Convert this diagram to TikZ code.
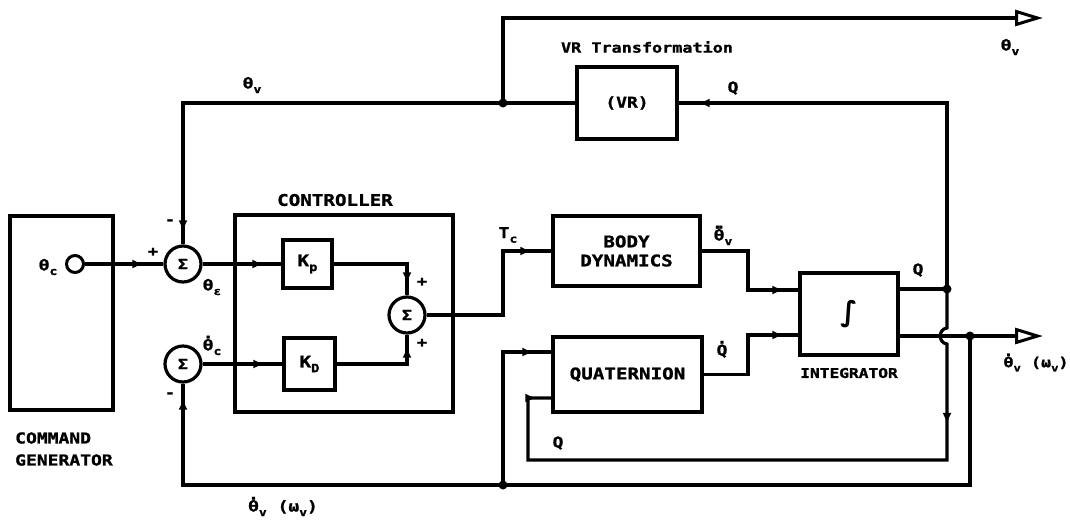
\documentclass[tikz,border=0pt]{standalone}
\usepackage{fontspec}
\usepackage{graphicx}
\usetikzlibrary{arrows.meta,decorations.markings}
\newfontfamily\lettering{DejaVu Sans Mono}[FakeStretch=1.2, BoldFeatures={FakeBold=1.2}]
\newfontfamily\plainsans{DejaVu Sans}
\newcommand\sbx[1]{\raisebox{-0.3em}{\scalebox{0.72}{#1}}}
\newcommand\dotx[1]{\ooalign{#1\cr\hidewidth\raisebox{0.8em}{.}\hidewidth\cr}}
\newcommand\ddotx[1]{\ooalign{#1\cr\hidewidth\raisebox{0.8em}{.\kern-0.5em.}\hidewidth\cr}}
\tikzset{
  wire/.style={line width=3.2pt},
  blk/.style={draw, rectangle, line width=3.2pt, inner sep=0pt},
  sumc/.style={draw, circle, line width=3.2pt, minimum size=36pt, inner sep=0pt,
    font=\lettering\bfseries\fontsize{14}{14}\selectfont},
  marked/.style={postaction={decorate}, decoration={markings,
    mark=at position -#1 with {\arrow{Latex[length=11pt,width=9pt]}}}},
  marked/.default=18pt,
  jdot/.style={circle, fill, inner sep=0pt, minimum size=9pt},
  outarr/.style={wire, -{Triangle[open, length=28pt, width=16pt, line width=3pt]}},
  lbl/.style={font=\lettering\bfseries\fontsize{16}{19}\selectfont, inner sep=0pt},
  glbl/.style={font=\lettering\bfseries\fontsize{15}{15}\selectfont, inner sep=0pt},
  sgn/.style={font=\lettering\bfseries\fontsize{14}{14}\selectfont, inner sep=0pt},
}
\begin{document}
\begin{tikzpicture}[x=1pt,y=-1pt]
\fill[white] (0,0) rectangle (1070,520);
\useasboundingbox (0,0) rectangle (1070,520);

% blocks
\node[blk, minimum width=103pt, minimum height=194pt] (cmd) at (61.5,313) {};
\node[blk, minimum width=218pt, minimum height=197pt] (ctrl) at (344,313.5) {};
\node[blk, lbl, minimum width=49pt, minimum height=48pt] (kp) at (307.5,264) {K\sbx{p}};
\node[blk, lbl, minimum width=51pt, minimum height=52pt] (kd) at (309.5,364) {K\sbx{D}};
\node[blk, lbl, align=center, minimum width=147pt, minimum height=70pt] (body) at (626.5,251) {BODY\\DYNAMICS};
\node[blk, lbl, minimum width=149pt, minimum height=75pt] (quat) at (627.5,374.5) {QUATERNION};
\node[blk, minimum width=98pt, minimum height=82pt, font=\plainsans\bfseries\fontsize{28}{28}\selectfont] (integ) at (849,314) {∫};
\node[blk, lbl, minimum width=100pt, minimum height=72pt, font=\lettering\bfseries\fontsize{15}{15}\selectfont] (vr) at (627,103) {(VR)};

% summing junctions
\node[draw, circle, line width=3pt, minimum size=17pt, inner sep=0pt] (src) at (75,264) {};
\node[sumc] (s1) at (183,264) {Σ};
\node[sumc] (s2) at (183,364) {Σ};
\node[sumc] (s3) at (407,315) {Σ};

% junction coordinates
\coordinate (j1) at (503,103);
\coordinate (ot) at (1043,18);
\coordinate (tcb) at (503,315);
\coordinate (b1) at (748,290);
\coordinate (b2) at (748,335);
\coordinate (q1) at (947,289);
\coordinate (qb) at (947,460);
\coordinate (qc) at (528,398);
\coordinate (w1) at (970,336);
\coordinate (om) at (1043,336);
\coordinate (fb) at (970,485);
\coordinate (j3) at (503,485);
\coordinate (qa) at (503,352);

% connectors
\draw[wire, marked=20pt] (src.east) -- (s1.west);
\draw[wire, marked=13pt] (vr.west) -| (s1.north);
\draw[outarr] (j1) |- (ot);
\draw[wire, marked=18pt] (s1.east) -- (kp.west);
\draw[wire, marked=18pt] (s2.east) -- (kd.west);
\draw[wire, marked=12pt] (kp.east) -| (s3.north);
\draw[wire, marked=12pt] (kd.east) -| (s3.south);
\draw[wire, marked=20pt] (s3.east) -- (tcb) |- (body.west);
\draw[wire, marked=15pt] (body.east) -| (b1) -- (b1 -| integ.west);
\draw[wire, marked=15pt] (quat.east) -| (b2) -- (b2 -| integ.west);
\draw[wire] (q1 -| integ.east) -- (q1);
\draw[wire, marked=20pt] (q1) |- (vr.east);
\draw[wire, postaction={decorate}, decoration={markings,
    mark=at position 142pt with {\arrow{Latex[length=11pt,width=9pt]}},
    mark=at position -15pt with {\arrow{Latex[length=11pt,width=9pt]}}}]
  (q1) -- (947,328) .. controls (938,329) and (938,343) .. (947,344) -- (qb) -| (qc) -- (qc -| quat.west);
\draw[outarr] (w1 -| integ.east) -- (om);
\draw[wire, marked=15pt] (w1) -- (fb) -| (s2.south);
\draw[wire, marked=18pt] (j3) -- (qa) -- (qa -| quat.west);

% dots
\node[jdot] (d1) at (j1) {};
\node[jdot] (d2) at (q1) {};
\node[jdot] (d3) at (w1) {};
\node[jdot] (d4) at (j3) {};

% labels
\node[glbl] (lthv1) at (252,85) {θ\sbx{v}};
\node[lbl, font=\lettering\bfseries\fontsize{14}{14}\selectfont] (lvrt) at (647,47) {VR Transformation};
\node[glbl] (lthv2) at (1010,47) {θ\sbx{v}};
\node[glbl] (lq1) at (733,88) {Q};
\node[glbl] (lthc) at (48,267) {θ\sbx{c}};
\node[sgn] (lp1) at (153,252) {+};
\node[sgn] (lm1) at (170,222) {-};
\node[glbl] (lthe) at (212,287) {θ\sbx{ε}};
\node[glbl] (lthcd) at (212,347) {\dotx{θ}\sbx{c}};
\node[sgn] (lm2) at (170,395) {-};
\node[lbl] (lctrl) at (335,200) {CONTROLLER};
\node[sgn] (lp2) at (422,282) {+};
\node[sgn] (lp3) at (422,343) {+};
\node[glbl] (ltc) at (508,235) {T\sbx{c}};
\node[glbl] (lthdd) at (723,237) {\ddotx{θ}\sbx{v}};
\node[glbl] (lqd) at (722,350) {\dotx{Q}};
\node[lbl, font=\lettering\bfseries\fontsize{13.5}{14}\selectfont] (lint) at (849,373) {INTEGRATOR};
\node[glbl] (lq2) at (918,270) {Q};
\node[glbl, font=\lettering\bfseries\fontsize{14}{14}\selectfont] (lwv1) at (1036,364) {\dotx{θ}\sbx{v} (ω\sbx{v})};
\node[lbl, align=left, anchor=west, font=\lettering\bfseries\fontsize{15}{22}\selectfont] (lcmd) at (15,449) {COMMAND\\GENERATOR};
\node[glbl] (lwv2) at (283,508) {\dotx{θ}\sbx{v} (ω\sbx{v})};
\node[glbl] (lq3) at (558,443) {Q};
\end{tikzpicture}
\end{document}
